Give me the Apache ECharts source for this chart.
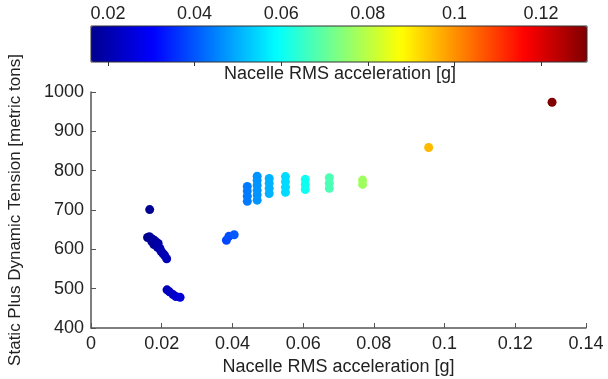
<!DOCTYPE html>
<html lang="en">
<head>
    <meta charset="utf-8">
    <title>Nacelle acceleration vs tension</title>
    <script src="https://cdn.jsdelivr.net/npm/echarts@6/dist/echarts.min.js"></script>
    <style>
        html, body { margin: 0; padding: 0; background: #fff; }
        #main { width: 608px; height: 379px; }
    </style>
</head>
<body>
    <div id="main"></div>
    <script type="text/javascript">
        // nacelle RMS acceleration [g]
        var accel = [
            0.0166,
            0.0160, 0.0165, 0.0170, 0.0175, 0.0172, 0.0180, 0.0185, 0.0178, 0.0190, 0.0188, 0.0195, 0.0198, 0.0203, 0.0208, 0.0214,
            0.0215, 0.0222, 0.0232, 0.0240, 0.0252,
            0.0383, 0.0390, 0.0405,
            0.0442, 0.0442, 0.0442, 0.0442,
            0.0470, 0.0470, 0.0470, 0.0470, 0.0470, 0.0470,
            0.0504, 0.0504, 0.0504, 0.0504,
            0.0550, 0.0550, 0.0550, 0.0550,
            0.0606, 0.0606, 0.0606,
            0.0674, 0.0674, 0.0674,
            0.0768, 0.0768,
            0.0955,
            0.1304
        ];
        // static plus dynamic tension [metric tons]
        var tension = [
            701,
            630, 632, 628, 625, 620, 622, 618, 612, 615, 605, 602, 595, 590, 585, 576,
            497, 492, 485, 480, 478,
            623, 633, 637,
            722, 735, 748, 760,
            725, 738, 750, 763, 775, 786,
            742, 755, 768, 780,
            745, 758, 772, 785,
            752, 765, 778,
            755, 768, 782,
            765, 776,
            859,
            974
        ];
        var colorbarTicks = [0.02, 0.04, 0.06, 0.08, 0.1, 0.12];
        var colorMin = 0.0161;
        var colorMax = 0.1306;
        // jet colormap
        var jet = ['#00008f', '#0000ff', '#0080ff', '#00ffff', '#80ff80', '#ffff00', '#ff8000', '#ff0000', '#800000'];

        var points = [];
        for (var i = 0; i < accel.length; i++) {
            points.push([accel[i], tension[i]]);
        }

        var font = 'Liberation Sans, Arial, sans-serif';
        var fs = 18;
        var myChart = echarts.init(document.getElementById('main'));
        myChart.setOption({
            animation: false,
            textStyle: { fontFamily: font },
            title: {
                text: 'Nacelle RMS acceleration [g]',
                left: 340,
                top: 65,
                padding: 0,
                textAlign: 'center',
                textStyle: { fontSize: fs, fontWeight: 'normal', color: '#222', fontFamily: font }
            },
            visualMap: {
                type: 'continuous',
                min: colorMin,
                max: colorMax,
                dimension: 0,
                seriesIndex: 0,
                orient: 'horizontal',
                left: 91,
                top: 26,
                padding: 0,
                itemWidth: 36,
                itemHeight: 496,
                calculable: false,
                hoverLink: false,
                text: null,
                showLabel: false,
                inRange: { color: jet }
            },
            grid: [
                { left: 91, right: 22, top: 92, bottom: 51, outerBoundsMode: 'none' },
                { left: 91, top: 26, width: 496, height: 36, show: true, z: 10, outerBoundsMode: 'none',
                  borderColor: '#333', borderWidth: 1, backgroundColor: 'transparent' }
            ],
            xAxis: [
                {
                    gridIndex: 0,
                    type: 'value',
                    min: 0,
                    max: 0.14,
                    interval: 0.02,
                    name: 'Nacelle RMS acceleration [g]',
                    nameLocation: 'middle',
                    nameGap: 28,
                    nameTextStyle: { fontSize: fs, color: '#222' },
                    axisLine: { lineStyle: { color: '#555', width: 1.5 } },
                    axisTick: { inside: true, length: 5, lineStyle: { color: '#555' } },
                    axisLabel: { fontSize: fs, color: '#222', margin: 7 },
                    splitLine: { show: false }
                },
                {
                    gridIndex: 1,
                    type: 'value',
                    position: 'top',
                    min: colorMin,
                    max: colorMax,
                    z: 10,
                    axisLine: { show: false },
                    axisTick: { show: true, inside: true, length: 4, customValues: colorbarTicks,
                                lineStyle: { color: '#333' } },
                    axisLabel: { fontSize: fs, color: '#222', margin: 3, customValues: colorbarTicks },
                    splitLine: { show: false }
                }
            ],
            yAxis: [
                {
                    gridIndex: 0,
                    type: 'value',
                    min: 400,
                    max: 1000,
                    interval: 100,
                    name: 'Static Plus Dynamic Tension [metric tons]',
                    nameLocation: 'middle',
                    nameGap: 67,
                    nameTextStyle: { fontSize: 17, color: '#222' },
                    axisLine: { show: true, lineStyle: { color: '#555', width: 1.5 } },
                    axisTick: { show: true, inside: true, length: 5, lineStyle: { color: '#555' } },
                    axisLabel: { fontSize: fs, color: '#222', margin: 7,
                                 formatter: function (v) { return String(v); } },
                    splitLine: { show: false }
                },
                {
                    gridIndex: 1,
                    type: 'value',
                    show: false
                }
            ],
            series: [{
                type: 'scatter',
                xAxisIndex: 0,
                yAxisIndex: 0,
                symbolSize: 9,
                itemStyle: { opacity: 1 },
                data: points
            }]
        });
    </script>
</body>
</html>
